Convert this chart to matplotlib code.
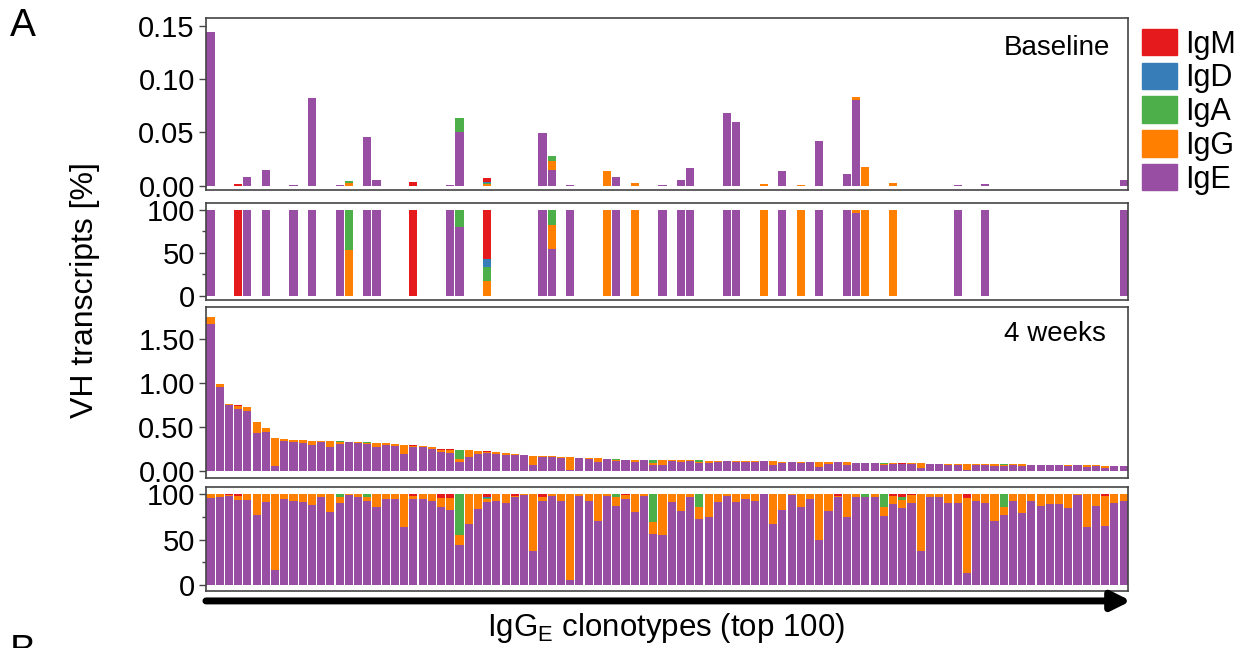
import numpy as np
import matplotlib
matplotlib.use("Agg")
import matplotlib.pyplot as plt
from matplotlib.patches import Patch
from matplotlib.ticker import MultipleLocator

plt.rcParams['font.family'] = ['Liberation Sans', 'DejaVu Sans']

# isotype order bottom -> top in the stacks
isotypes = ['IgE', 'IgG', 'IgA', 'IgD', 'IgM']
colors = {'IgM': '#E41A1C', 'IgD': '#377EB8', 'IgA': '#4DAF4A',
          'IgG': '#FF7F00', 'IgE': '#984EA3'}

# Baseline: only clonotypes that were already detected (index in top-100)
base_idx = [0, 3, 4, 6, 9, 11, 14, 15, 17, 18, 22, 26, 27, 30, 36, 37, 39, 43,
            44, 46, 49, 51, 52, 56, 57, 60, 62, 64, 66, 69, 70, 71, 74, 81, 84, 99]
base_total = [0.144, 0.0012, 0.0085, 0.015, 0.001, 0.082, 0.001, 0.0045, 0.046,
              0.0048, 0.0036, 0.001, 0.0634, 0.0068, 0.049, 0.0277, 0.0008, 0.0137,
              0.0083, 0.0027, 0.0008, 0.0054, 0.0164, 0.068, 0.0595, 0.0018, 0.0137,
              0.0008, 0.042, 0.0113, 0.0828, 0.0179, 0.0024, 0.0008, 0.0018, 0.0048]
# composition in percent
base_igm = [0, 100, 0, 0, 0, 0, 0, 0, 0, 0, 100, 0, 0, 57, 0, 0, 0, 0,
            0, 0, 0, 0, 0, 0, 0, 0, 0, 0, 0, 0, 0, 0, 0, 0, 0, 0]
base_igd = [0, 0, 0, 0, 0, 0, 0, 0, 0, 0, 0, 0, 0, 10, 0, 0, 0, 0,
            0, 0, 0, 0, 0, 0, 0, 0, 0, 0, 0, 0, 0, 0, 0, 0, 0, 0]
base_iga = [0, 0, 0, 0, 0, 0, 0, 47, 0, 0, 0, 0, 20, 16, 0, 18, 0, 0,
            0, 0, 0, 0, 0, 0, 0, 0, 0, 0, 0, 0, 0, 0, 0, 0, 0, 0]
base_igg = [0, 0, 0, 0, 0, 0, 0, 53, 0, 0, 0, 0, 0, 17, 0, 28, 0, 100,
            0, 100, 0, 0, 0, 0, 0, 100, 0, 100, 0, 0, 3.5, 100, 100, 0, 0, 0]

# 4 weeks: abundance [%] of the top 100 IgG_E clonotypes
wk4_total = [1.748, 0.985, 0.765, 0.752, 0.729, 0.560, 0.485, 0.376, 0.365, 0.353,
             0.350, 0.342, 0.338, 0.342, 0.346, 0.335, 0.331, 0.331, 0.323, 0.316,
             0.305, 0.297, 0.293, 0.289, 0.271, 0.257, 0.252, 0.244, 0.241, 0.233,
             0.229, 0.214, 0.203, 0.195, 0.180, 0.177, 0.173, 0.169, 0.162, 0.158,
             0.154, 0.150, 0.147, 0.139, 0.135, 0.132, 0.132, 0.131, 0.128, 0.127,
             0.128, 0.124, 0.122, 0.121, 0.120, 0.116, 0.115, 0.114, 0.113, 0.112,
             0.111, 0.110, 0.109, 0.108, 0.106, 0.105, 0.104, 0.102, 0.101, 0.100,
             0.098, 0.096, 0.095, 0.094, 0.092, 0.089, 0.088, 0.087, 0.086, 0.085,
             0.084, 0.083, 0.082, 0.081, 0.080, 0.079, 0.078, 0.077, 0.076, 0.075,
             0.074, 0.073, 0.072, 0.071, 0.070, 0.069, 0.066, 0.062, 0.060, 0.058]
wk4_igm = [0, 0, 1, 2, 0, 0, 0, 0, 0, 0, 0, 0, 0, 0, 0, 0, 0, 0, 0, 0,
           0, 0, 1.5, 0, 0, 4.5, 4.5, 0, 0, 0, 3.5, 0, 0, 1.5, 0, 0, 3.5, 0, 0, 0,
           0, 0, 0, 0, 0, 1, 0, 0, 0, 0, 0, 0, 0, 0, 0, 0, 0, 0, 0, 0,
           0, 0, 0, 0, 0, 0, 0, 0, 1.5, 0, 0, 0, 0, 0, 2, 3.5, 1, 0, 0, 0,
           0, 0, 4.5, 0, 0, 0, 0, 0, 0, 0, 0, 0, 0, 0, 0, 0, 0, 2, 0, 0]
wk4_igd = [0, 0, 0, 0, 0, 0, 0, 0, 0, 0, 0, 0, 0, 0, 0, 0, 0, 0, 0, 0,
           0, 0, 0, 0, 0, 0, 0, 0, 0, 0, 1, 0, 0, 0, 0, 0, 0, 0, 0, 0,
           0, 0, 0, 0, 0, 0, 0, 0, 0, 0, 0, 0, 0, 0, 0, 0, 0, 0, 0, 0,
           0, 0, 0, 0, 0, 0, 0, 0, 0, 0, 0, 0, 0, 0, 0, 0, 0, 0, 0, 0,
           0, 0, 0, 0, 0, 0, 0, 0, 0, 0, 0, 0, 0, 0, 0, 0, 0, 0, 0, 0]
wk4_iga = [0, 0, 0, 0, 0, 0, 0, 0, 0, 0, 0, 0, 0, 0, 3.5, 0, 0, 3, 0, 0,
           0, 0, 0, 0, 0, 0, 0, 44.5, 0, 0, 1, 0, 0, 0, 0, 0, 0, 0, 0, 0,
           0, 0, 0, 0, 3, 0, 0, 0, 30.5, 0, 0, 0, 0, 13.5, 0, 0, 0, 0, 0, 0,
           0, 0, 0, 0, 0, 0, 0, 0, 0, 0, 0, 2.5, 0, 13.5, 0, 3, 0, 0, 0, 0,
           0, 0, 0, 0, 0, 0, 13.5, 0, 0, 0, 0, 0, 0, 0, 0, 0, 0, 0, 0, 0]
wk4_igg = [4.6, 3, 1, 4, 6, 23, 9, 84, 5, 7, 8, 12, 3, 20, 6.5, 1, 3, 4.5, 13.5, 5,
           5, 36, 3.5, 5.5, 7.5, 9, 12.5, 11.5, 33, 16, 3, 7.5, 10, 2, 1, 63, 4, 2, 7.5, 95,
           2, 7.5, 29, 1.5, 9.5, 4, 20, 2, 13.5, 45, 8, 18, 3, 13.5, 25, 8, 2, 9, 5.5, 7.5,
           0, 33, 17, 0.5, 13.5, 5.5, 50, 18, 1, 25, 3, 0, 3.5, 10, 9, 8.5, 9, 63, 3, 3,
           10, 10, 82.5, 7.5, 10, 29.5, 9, 7.5, 21, 7.5, 13, 11, 10.5, 15, 1, 36, 13, 33, 10, 7.5]


def composition(igm, igd, iga, igg):
    igm, igd, iga, igg = (np.array(v, dtype=float) for v in (igm, igd, iga, igg))
    ige = 100 - igm - igd - iga - igg
    return {'IgM': igm, 'IgD': igd, 'IgA': iga, 'IgG': igg, 'IgE': ige}


def stacked(ax, x, layers, scale, width=0.88):
    bottom = np.zeros(len(x))
    for iso in isotypes:
        vals = layers[iso] * scale
        ax.bar(x, vals, bottom=bottom, width=width, color=colors[iso], linewidth=0)
        bottom = bottom + vals


base_comp = composition(base_igm, base_igd, base_iga, base_igg)
wk4_comp = composition(wk4_igm, wk4_igd, wk4_iga, wk4_igg)
x_base = np.array(base_idx)
x_all = np.arange(len(wk4_total))

fig = plt.figure(figsize=(12.48, 6.48), dpi=100)
L, W = 0.165, 0.739
ax1 = fig.add_axes([L, 0.707, W, 0.265])
ax2 = fig.add_axes([L, 0.537, W, 0.150])
ax3 = fig.add_axes([L, 0.262, W, 0.264])
ax4 = fig.add_axes([L, 0.088, W, 0.160])

stacked(ax1, x_base, base_comp, np.array(base_total) / 100)
stacked(ax2, x_base, base_comp, 1.0)
stacked(ax3, x_all, wk4_comp, np.array(wk4_total) / 100)
stacked(ax4, x_all, wk4_comp, 1.0)

ax1.set_ylim(-0.004, 0.157)
ax1.set_yticks([0, 0.05, 0.10, 0.15])
ax1.set_yticklabels(['0.00', '0.05', '0.10', '0.15'])
ax2.set_ylim(-5, 108)
ax3.set_ylim(-0.08, 1.86)
ax3.set_yticks([0, 0.5, 1.0, 1.5])
ax3.set_yticklabels(['0.00', '0.50', '1.00', '1.50'])
ax4.set_ylim(-6.6, 107.7)
for ax in (ax2, ax4):
    ax.set_yticks([0, 50, 100])
    ax.yaxis.set_minor_locator(MultipleLocator(25))

for ax in (ax1, ax2, ax3, ax4):
    ax.set_xlim(-0.5, 99.5)
    ax.set_xticks([])
    for sp in ax.spines.values():
        sp.set_color('#444444')
        sp.set_linewidth(1.2)
    ax.tick_params(axis='y', which='both', labelsize=21, length=5, width=1,
                   color='#444444', pad=3)
    ax.tick_params(axis='y', which='minor', length=3)

ax1.text(0.98, 0.826, 'Baseline', transform=ax1.transAxes, ha='right',
         va='center', fontsize=20)
ax3.text(0.976, 0.842, '4 weeks', transform=ax3.transAxes, ha='right',
         va='center', fontsize=20)

# arrow under the bars
ax4.annotate('', xy=(1.003, -0.096), xytext=(0, -0.096), xycoords='axes fraction',
             arrowprops=dict(arrowstyle='-|>', lw=5, color='black',
                             mutation_scale=28, shrinkA=0, shrinkB=0),
             annotation_clip=False)

fig.text(666 / 1248, 1 - 628 / 648, r'IgG$_\mathregular{E}$ clonotypes (top 100)',
         ha='center', va='center', fontsize=22.5)
fig.text(85 / 1248, 1 - 290 / 648, 'VH transcripts [%]', rotation=90,
         ha='center', va='center', fontsize=23)
fig.text(10 / 1248, 1 - 26 / 648, 'A', ha='left', va='center', fontsize=28)
fig.text(10 / 1248, 1 - 634 / 648, 'B', ha='left', va='top', fontsize=28)

handles = [Patch(color=colors[k], label=k) for k in ['IgM', 'IgD', 'IgA', 'IgG', 'IgE']]
fig.legend(handles=handles, loc='upper left', bbox_to_anchor=(1142 / 1248, 1 - 29 / 648),
           frameon=False, fontsize=22, handlelength=1.15, handleheight=0.95,
           handletextpad=0.25, labelspacing=0.1, borderpad=0, borderaxespad=0)

fig.savefig('out.png', dpi=100)
